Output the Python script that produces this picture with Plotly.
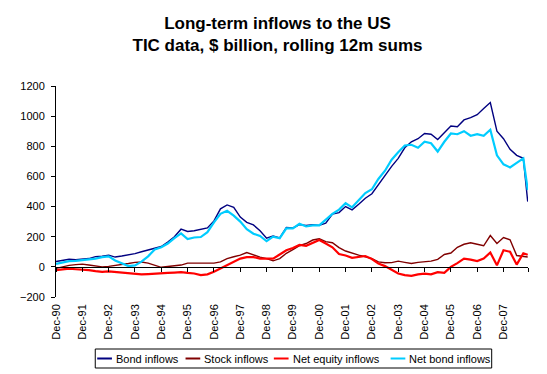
import pandas as pd
import plotly.graph_objects as go

# ---- data (quarterly readings, Dec-1990 .. Sep-2008, plus final Nov-2008) ----
dates = list(pd.date_range("1990-12-01", periods=72, freq="3MS").strftime("%Y-%m-%d")) + ["2008-11-01"]

bond_inflows = [35, 42, 50, 48, 51, 55, 68, 70, 78, 65, 72, 78, 88, 100, 110, 120, 135, 165, 200, 250,
                235, 240, 250, 258, 305, 385, 411, 395, 330, 295, 278, 240, 190, 205, 192, 262,
                258, 280, 275, 280, 275, 290, 350, 360, 400, 378, 415, 455, 485, 545, 610, 667,
                720, 790, 830, 850, 885, 880, 845, 890, 935, 930, 975, 990, 1010, 1050, 1090,
                900, 850, 780, 740, 720, 433]
stock_inflows = [-10, 0, 10, 15, 18, 12, 5, 0, 3, 8, 15, 22, 30, 32, 25, 12, -3, 2, 8, 12,
                 25, 25, 22, 22, 25, 33, 55, 67, 78, 95, 78, 65, 55, 40, 55, 90,
                 115, 140, 155, 178, 186, 167, 160, 128, 105, 90, 78, 67, 55, 33, 27, 28,
                 38, 30, 22, 30, 33, 38, 50, 82, 92, 130, 150, 160, 150, 140, 208,
                 155, 195, 180, 75, 70, 65]
net_equity_inflows = [-22, -16, -12, -16, -18, -22, -28, -33, -30, -33, -38, -40, -44, -50, -48, -44, -42, -40, -38, -35,
                      -40, -44, -55, -50, -33, -12, 10, 33, 55, 65, 65, 55, 57, 55, 82, 110,
                      125, 145, 140, 160, 178, 155, 130, 85, 75, 60, 67, 72, 52, 22, 5, -22,
                      -44, -55, -60, -50, -45, -50, -35, -40, 0, 25, 55, 48, 38, 55, 95,
                      10, 110, 100, 15, 90, 80]
net_bond_inflows = [20, 30, 38, 40, 44, 52, 55, 65, 70, 42, 25, 5, 10, 35, 70, 115, 130, 155, 190, 222,
                    185, 195, 198, 230, 295, 352, 372, 340, 300, 250, 220, 205, 170, 200, 190, 255,
                    255, 286, 268, 275, 275, 310, 352, 380, 422, 395, 440, 490, 515, 583, 638, 711,
                    760, 805, 810, 790, 830, 820, 765, 830, 885, 880, 900, 870, 880, 870, 910,
                    740, 680, 660, 690, 720, 510]

series_names = ["Bond inflows", "Stock inflows", "Net equity inflows", "Net bond inflows"]
series_values = [bond_inflows, stock_inflows, net_equity_inflows, net_bond_inflows]
series_colors = ["#000080", "#800000", "#FF0000", "#00CCFF"]
series_widths = [1.4, 1.4, 2.2, 2.2]

tick_dates = [f"{y}-12-01" for y in range(1990, 2008)]
tick_labels = [f"Dec-{str(y)[2:]}" for y in range(1990, 2008)]

FONT = "Arial, 'Liberation Sans', sans-serif"
# the page body adds an 8px offset, so the figure is laid out 8px smaller
OFF = 8
W, H = 547 - OFF, 374 - OFF
L, R, T, B = 39, 19, 78, 77

fig = go.Figure()
for name, vals, col, wd in zip(series_names, series_values, series_colors, series_widths):
    fig.add_trace(go.Scatter(x=dates, y=vals, name=name, mode="lines",
                             line=dict(color=col, width=wd), showlegend=False))
# helper trace so the zero-line axis is drawn
fig.add_trace(go.Scatter(x=[dates[0]], y=[None], xaxis="x2", showlegend=False, hoverinfo="skip"))

x_range = ["1990-12-01", "2008-11-05"]
fig.update_layout(
    width=W, height=H,
    margin=dict(l=L, r=R, t=T, b=B),
    paper_bgcolor="white", plot_bgcolor="white",
    font=dict(family=FONT, size=11, color="black"),
    title=dict(text="<b>Long-term inflows to the US<br>TIC data, $ billion, rolling 12m sums</b>",
               x=0.5, xanchor="center", xref="container",
               y=1 - 20.5 / H, yanchor="top", yref="container",
               font=dict(family=FONT, size=17, color="black")),
    xaxis=dict(type="date", range=x_range, tickvals=tick_dates, ticktext=tick_labels,
               tickangle=-90, showline=False, ticks="", showgrid=False, zeroline=False,
               ticklabelstandoff=4, tickfont=dict(size=11, color="black")),
    xaxis2=dict(type="date", range=x_range, matches="x", overlaying="x", anchor="free",
                position=200 / 1400, showline=True, linecolor="black", linewidth=1,
                ticks="outside", ticklen=4, tickcolor="black",
                tickvals=tick_dates + ["2008-11-05"], showticklabels=False, showgrid=False, zeroline=False),
    yaxis=dict(range=[-200, 1200], tickvals=[-200, 0, 200, 400, 600, 800, 1000, 1200],
               showline=True, linecolor="black", linewidth=1, ticks="outside", ticklen=4,
               tickcolor="black", showgrid=False, zeroline=False, ticklabelstandoff=4,
               tickfont=dict(size=11, color="black")),
)

# ---- legend drawn as a boxed row below the axis labels ----
pw, ph = W - L - R, H - T - B
def px(x):
    return (x - OFF - L) / pw
def py(y):
    return (H - B - (y - OFF)) / ph

box = (87, 349, 491, 368)
fig.add_shape(type="rect", xref="paper", yref="paper",
              x0=px(box[0]), x1=px(box[2]), y0=py(box[1]), y1=py(box[3]),
              line=dict(color="black", width=1), fillcolor="white", layer="above")
ymid = (box[1] + box[3]) / 2
line_x = [89, 179, 269, 388]
for name, col, lx in zip(series_names, series_colors, line_x):
    fig.add_shape(type="line", xref="paper", yref="paper",
                  x0=px(lx), x1=px(lx + 15), y0=py(ymid), y1=py(ymid),
                  line=dict(color=col, width=2))
    fig.add_annotation(text=name, xref="paper", yref="paper", x=px(lx + 17), y=py(ymid),
                       xanchor="left", yanchor="middle", showarrow=False,
                       font=dict(family=FONT, size=11, color="black"))

fig.write_html("out.html")
